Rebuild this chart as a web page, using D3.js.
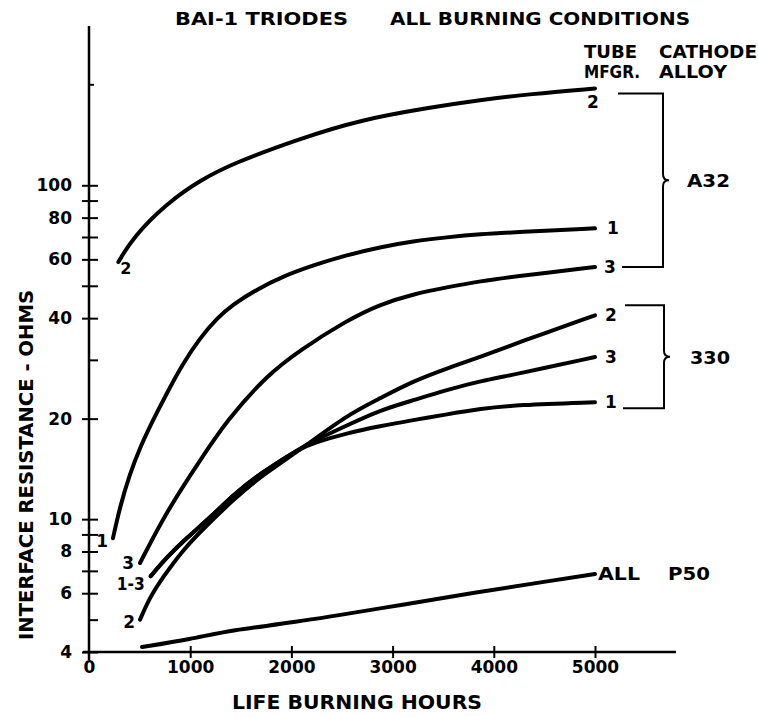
<!DOCTYPE html>
<html>
<head>
<meta charset="utf-8">
<script src="https://cdn.jsdelivr.net/npm/d3@7"></script>
<style>
  body { margin: 0; background: #fff; }
  svg { display: block; font-family: "DejaVu Sans", sans-serif; font-weight: bold; }
</style>
</head>
<body>
<div id="chart"></div>
<script>
// A32 cathode alloy
var a32_2_hours = [290, 435, 771, 1097, 1423, 2085, 2678, 3370, 3864, 4358, 5000];
var a32_2_ohms  = [58.9, 69.9, 88.4, 103.5, 116.4, 138, 157, 171, 180, 187.6, 195];

var a32_1_hours = [237, 306, 405, 504, 632, 771, 929, 1097, 1265, 1423, 1660, 1917, 2213, 2549, 2875, 3202, 3538, 3864, 4229, 5000];
var a32_1_ohms  = [8.77, 10.9, 13.7, 16.4, 19.8, 23.9, 29.3, 34.9, 40.0, 44.0, 48.8, 53.4, 57.6, 61.8, 65.3, 68.0, 69.9, 71.4, 72.4, 74.3];

var a32_3_hours = [504, 771, 1097, 1364, 1759, 2085, 2549, 2875, 3202, 3538, 3864, 4229, 5000];
var a32_3_ohms  = [7.39, 10.6, 15.0, 19.8, 27.0, 32.1, 39.4, 44.0, 47.2, 49.5, 51.6, 53.4, 56.9];

// 330 cathode alloy
var c330_2_hours = [504, 603, 731, 929, 1166, 1423, 1690, 2085, 2549, 2875, 3202, 3538, 3864, 4229, 5000];
var c330_2_ohms  = [5.0, 5.85, 6.7, 8.1, 9.6, 11.4, 13.4, 16.1, 20.5, 23.0, 25.9, 28.3, 30.6, 33.7, 40.8];

var c330_3_hours = [610, 771, 968, 1196, 1423, 1690, 2085, 2213, 2549, 2875, 3202, 3538, 3864, 4229, 5000];
var c330_3_ohms  = [6.75, 7.7, 8.8, 10.1, 11.8, 13.7, 16.3, 17.1, 19.1, 21.2, 22.7, 24.4, 25.9, 27.2, 30.6];

var c330_1_hours = [610, 771, 968, 1196, 1423, 1690, 2085, 2213, 2549, 2875, 3202, 3538, 3864, 4229, 5000];
var c330_1_ohms  = [6.75, 7.7, 8.8, 10.1, 11.8, 13.7, 16.3, 16.9, 18.1, 19.0, 19.8, 20.6, 21.4, 22.0, 22.4];

// P50, all makers
var p50_hours = [524, 1000, 1423, 1986, 2875, 3864, 4526, 5000];
var p50_ohms  = [4.14, 4.37, 4.66, 4.88, 5.40, 6.06, 6.51, 6.85];

var xTicks = [0, 1000, 2000, 3000, 4000, 5000];
var yTicks = [4, 5, 6, 7, 8, 9, 10, 20, 30, 40, 50, 60, 70, 80, 90, 100];
var yLabelTicks = [4, 6, 8, 10, 20, 40, 60, 80, 100];
var yCrossTicks = [4, 6, 7, 8, 9, 10, 20, 40, 50, 60, 70, 80, 90, 100];

var w = 758;
var h = 717;

var svg = d3.select("#chart").append("svg")
    .attr("width", w)
    .attr("height", h);

var x = d3.scaleLinear().domain([0, 5000]).range([89, 595]);
var y = d3.scaleLog().domain([4, 300]).range([652, 26]);

function zip(hs, vs) {
    return hs.map(function(d, i) { return [d, vs[i]]; });
}

var series = [
    {pts: zip(a32_2_hours, a32_2_ohms)},
    {pts: zip(a32_1_hours, a32_1_ohms)},
    {pts: zip(a32_3_hours, a32_3_ohms)},
    {pts: zip(c330_2_hours, c330_2_ohms)},
    {pts: zip(c330_3_hours, c330_3_ohms)},
    {pts: zip(c330_1_hours, c330_1_ohms)},
    {pts: zip(p50_hours, p50_ohms)}
];

// axes lines
svg.append("line").attr("x1", x(0)).attr("x2", x(0))
   .attr("y1", y(300)).attr("y2", y(4) + 8)
   .attr("stroke", "#000").attr("stroke-width", 2.5);
svg.append("line").attr("x1", x(0) - 6).attr("x2", x(5800))
   .attr("y1", y(4)).attr("y2", y(4))
   .attr("stroke", "#000").attr("stroke-width", 2.5);

// y axis: labels + left half of crossing ticks, then right half of all ticks
var yLeft = svg.append("g")
    .attr("transform", "translate(" + x(0) + ",0)")
    .call(d3.axisLeft(y).tickValues(yCrossTicks).tickSize(7).tickPadding(10)
          .tickFormat(function(d) { return yLabelTicks.indexOf(d) >= 0 ? d : ""; }));
yLeft.select(".domain").remove();
yLeft.selectAll("line").attr("stroke-width", 2);
yLeft.selectAll("text").attr("font-size", 17).attr("font-family", "DejaVu Sans")
     .attr("font-weight", "bold").attr("fill", "#000");

var yRight = svg.append("g")
    .attr("transform", "translate(" + x(0) + ",0)")
    .call(d3.axisRight(y).tickValues(yTicks).tickSize(9).tickFormat(""));
yRight.select(".domain").remove();
yRight.selectAll("line").attr("stroke-width", 2);

svg.append("line").attr("x1", x(0)).attr("x2", x(0) + 5)
   .attr("y1", y(200)).attr("y2", y(200))
   .attr("stroke", "#000").attr("stroke-width", 2);

// x axis
var xAxis = svg.append("g")
    .attr("transform", "translate(0," + (y(4) - 6) + ")")
    .call(d3.axisBottom(x).tickValues(xTicks).tickSize(12).tickPadding(3).tickFormat(d3.format("d")));
xAxis.select(".domain").remove();
xAxis.selectAll("line").attr("stroke-width", 2)
     .attr("stroke", function(d) { return d === 0 ? "none" : "#000"; });
xAxis.selectAll("text").attr("font-size", 17).attr("font-family", "DejaVu Sans")
     .attr("font-weight", "bold").attr("fill", "#000");

// curves
var line = d3.line()
    .x(function(d) { return x(d[0]); })
    .y(function(d) { return y(d[1]); })
    .curve(d3.curveBasis);

svg.selectAll("path.curve")
   .data(series)
   .enter()
   .append("path")
   .attr("class", "curve")
   .attr("d", function(d) { return line(d.pts); })
   .attr("fill", "none")
   .attr("stroke", "#000")
   .attr("stroke-width", 4)
   .attr("stroke-linecap", "round");

// text helper
function label(txt, tx, ty, size, anchor, len) {
    var t = svg.append("text")
        .attr("x", tx).attr("y", ty)
        .attr("font-size", size)
        .attr("text-anchor", anchor || "start")
        .attr("fill", "#000")
        .text(txt);
    if (len) t.attr("textLength", len).attr("lengthAdjust", "spacingAndGlyphs");
    return t;
}

// titles
label("BAI-1 TRIODES", 175, 25, 17, "start", 173);
label("ALL BURNING CONDITIONS", 390, 25, 17, "start", 300);
label("TUBE", 584, 58, 17, "start", 53);
label("CATHODE", 659, 58, 17, "start", 98);
label("MFGR.", 584, 78, 17, "start", 56);
label("ALLOY", 659, 78, 17, "start", 68);

label("LIFE BURNING HOURS", 232, 709, 19, "start", 250);
svg.append("text")
   .attr("transform", "translate(33,640) rotate(-90)")
   .attr("font-size", 19)
   .attr("textLength", 350).attr("lengthAdjust", "spacingAndGlyphs")
   .attr("fill", "#000")
   .text("INTERFACE RESISTANCE - OHMS");

// start labels
var s = series;
label("2", x(s[0].pts[0][0]) + 2, y(s[0].pts[0][1]) + 12, 16);
label("1", x(s[1].pts[0][0]) - 5, y(s[1].pts[0][1]) + 9, 17, "end");
label("3", x(s[2].pts[0][0]) - 6, y(s[2].pts[0][1]) + 6, 17, "end");
label("1-3", x(s[4].pts[0][0]) - 6, y(s[4].pts[0][1]) + 14, 17, "end", 28);
label("2", x(s[3].pts[0][0]) - 5, y(s[3].pts[0][1]) + 8, 17, "end");

// end labels
var xe = x(5000);
label("2", xe - 2, y(195) + 20, 17, "middle");
label("1", xe + 12, y(74.3) + 6, 17, "start");
label("3", xe + 9, y(56.9) + 6, 17, "start");
label("2", xe + 10, y(40.8) + 6, 17, "start");
label("3", xe + 10, y(30.6) + 6, 17, "start");
label("1", xe + 10, y(22.4) + 6, 17, "start");
label("ALL", xe + 3, y(6.85) + 6, 17, "start", 42);
label("P50", xe + 73, y(6.85) + 6, 17, "start", 42);

// brackets
function brace(x0, x1, top, bottom, bx) {
    var mid = (top + bottom) / 2;
    var p = d3.path();
    p.moveTo(x0, top);
    p.lineTo(bx, top);
    p.lineTo(bx, mid - 6);
    p.quadraticCurveTo(bx, mid, bx + 6, mid);
    p.quadraticCurveTo(bx, mid, bx, mid + 6);
    p.lineTo(bx, bottom);
    p.lineTo(x1, bottom);
    svg.append("path").attr("d", p.toString())
       .attr("fill", "none").attr("stroke", "#000").attr("stroke-width", 2);
    return mid;
}
var m1 = brace(xe + 23, xe + 27, y(195) + 5, y(56.9), xe + 68);
label("A32", xe + 92, m1 + 7, 17, "start", 43);
var m2 = brace(xe + 30, xe + 28, y(40.8) - 10, y(22.4) + 6, xe + 69);
label("330", xe + 95, m2 + 7, 17, "start", 40);
</script>
</body>
</html>
